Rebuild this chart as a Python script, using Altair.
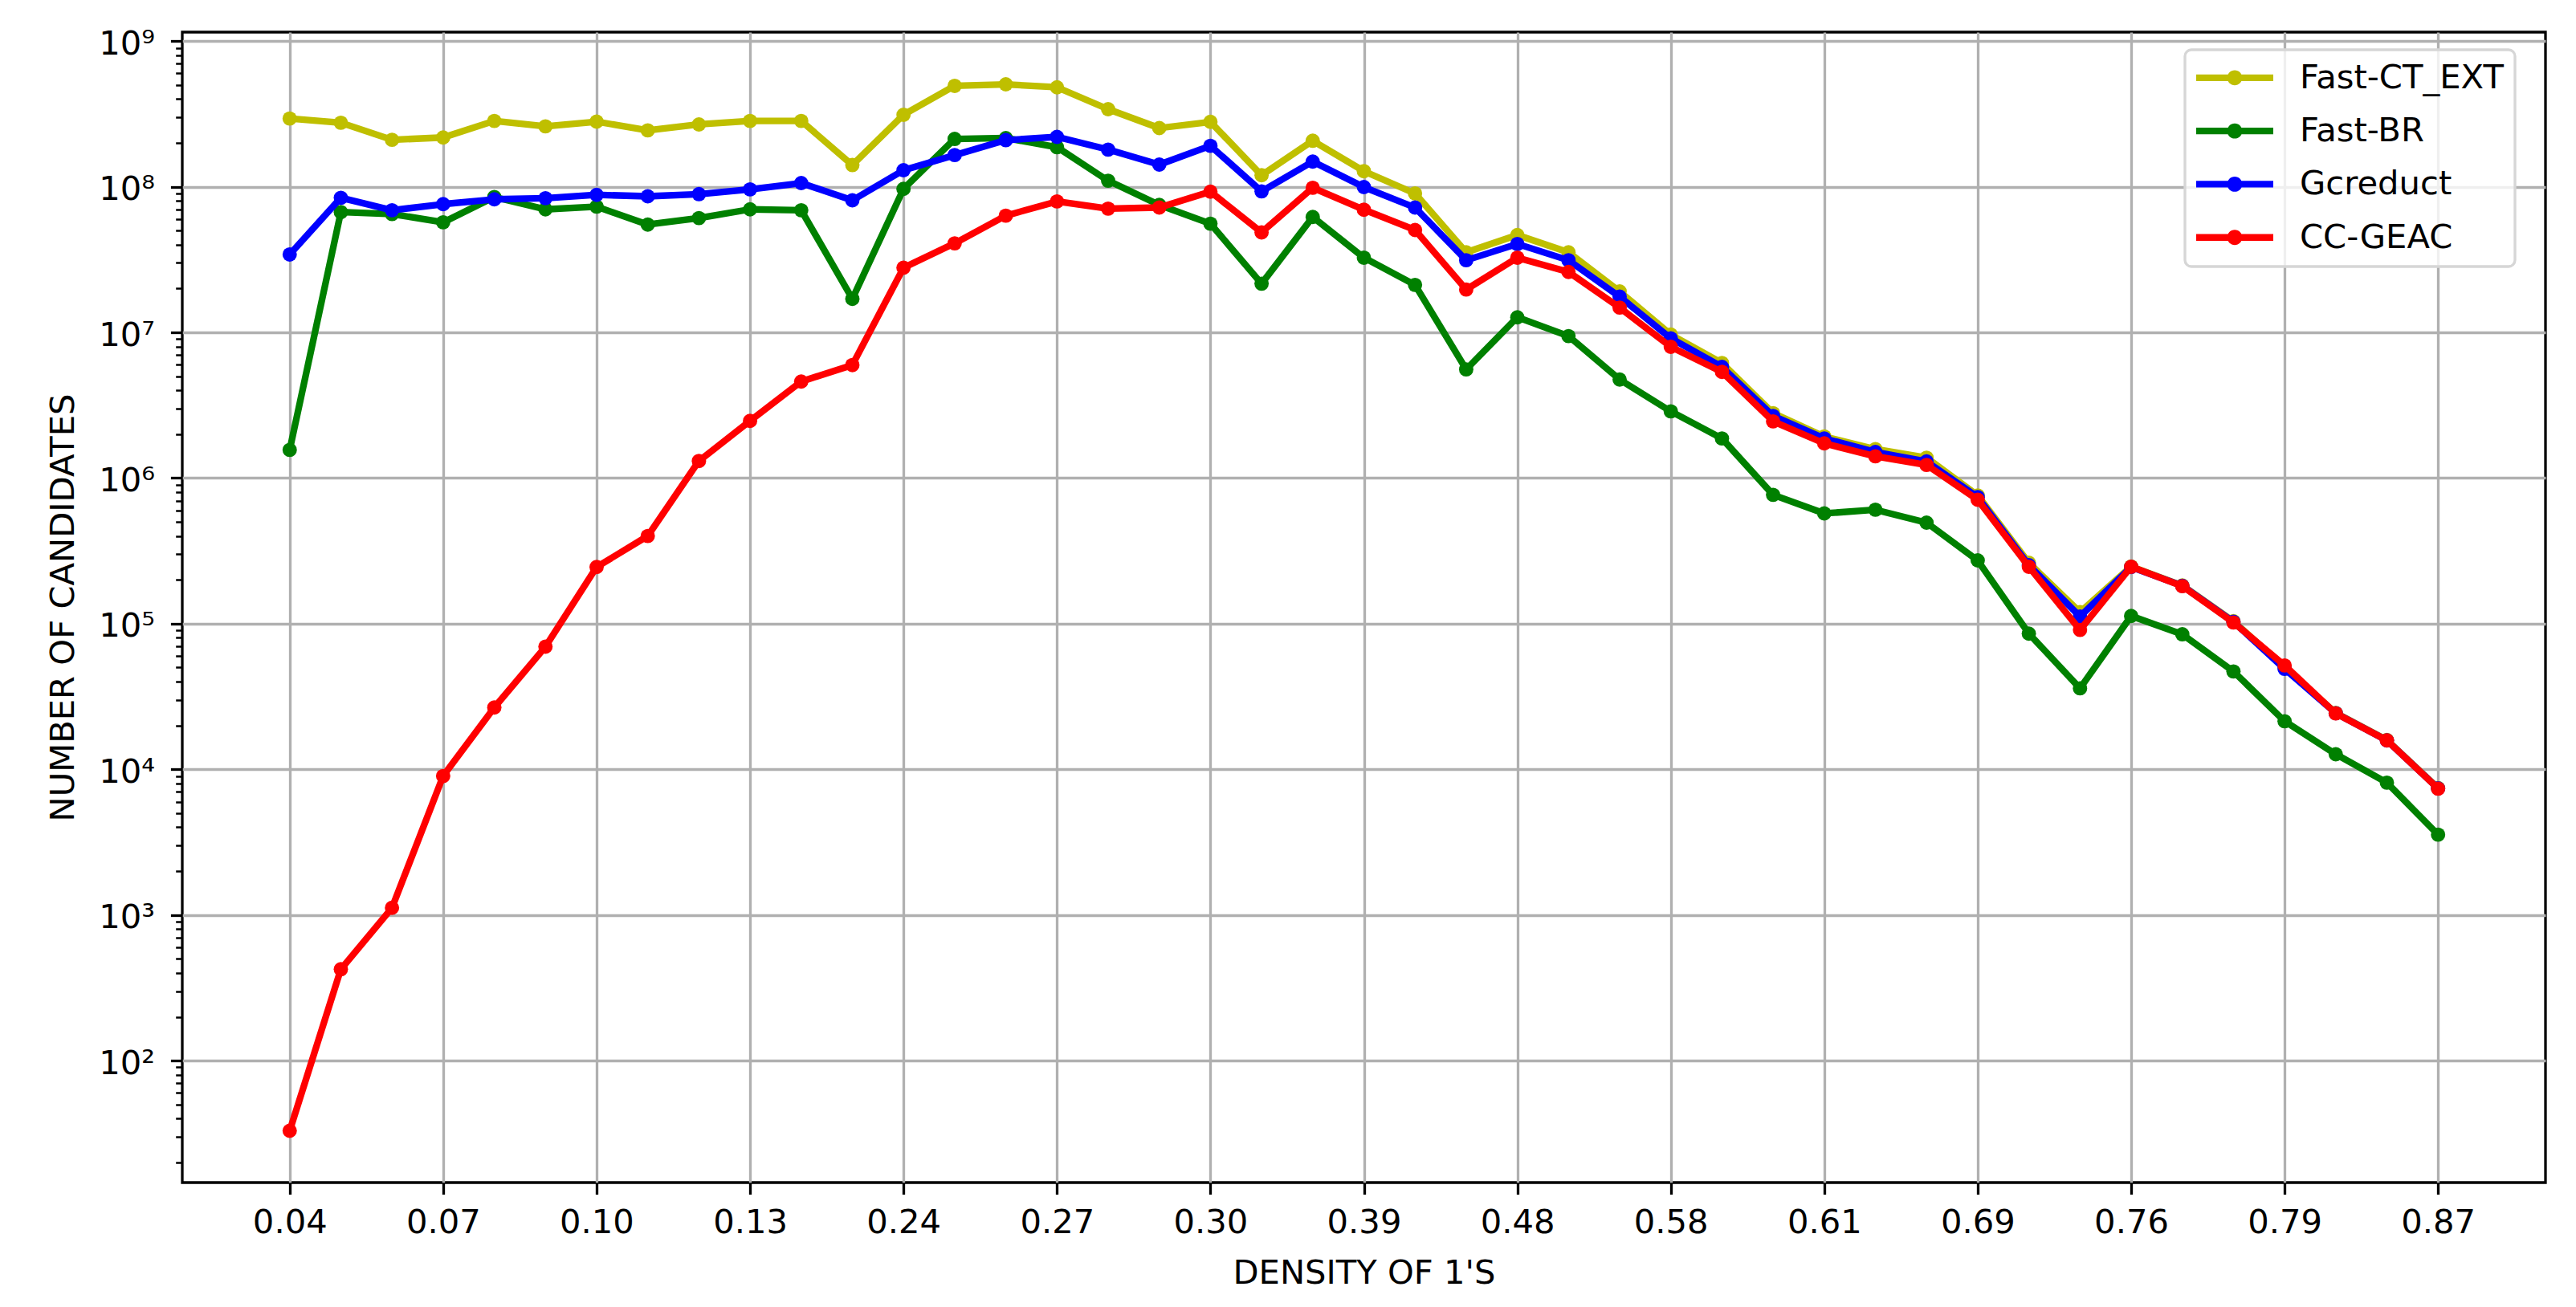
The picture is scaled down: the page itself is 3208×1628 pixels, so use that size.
import json
import altair as alt
import pandas as pd

# ---------------- data ----------------
x_labels = ["0.04", "0.07", "0.10", "0.13", "0.24", "0.27", "0.30", "0.39",
            "0.48", "0.58", "0.61", "0.69", "0.76", "0.79", "0.87"]
series_names = ["Fast-CT_EXT", "Fast-BR", "Gcreduct", "CC-GEAC"]
series_colors = ["#bfbf00", "#008000", "#0000ff", "#ff0000"]

fast_ct_ext = [2.94e8, 2.75e8, 2.1e8, 2.18e8, 2.83e8, 2.6e8, 2.8e8, 2.44e8, 2.68e8, 2.83e8,
               2.83e8, 1.41e8, 3.12e8, 4.93e8, 5.05e8, 4.82e8, 3.41e8, 2.53e8, 2.79e8, 1.2e8,
               2.07e8, 1.28e8, 9.0e7, 3.55e7, 4.66e7, 3.55e7, 1.91e7, 9.66e6, 6.17e6, 2.79e6,
               1.93e6, 1.58e6, 1.38e6, 7.6e5, 2.62e5, 1.2e5, 2.47e5, 1.83e5, 1.04e5, 5.0e4,
               2.44e4, 1.59e4, 7.45e3]
fast_br = [1.56e6, 6.7e7, 6.5e7, 5.7e7, 8.5e7, 7.0e7, 7.3e7, 5.5e7, 6.1e7, 7.0e7,
           6.9e7, 1.70e7, 9.67e7, 2.13e8, 2.16e8, 1.87e8, 1.10e8, 7.5e7, 5.58e7, 2.16e7,
           6.2e7, 3.26e7, 2.12e7, 5.57e6, 1.27e7, 9.44e6, 4.75e6, 2.87e6, 1.87e6, 7.67e5,
           5.72e5, 6.06e5, 4.94e5, 2.72e5, 8.55e4, 3.6e4, 1.13e5, 8.46e4, 4.7e4, 2.14e4,
           1.27e4, 8.1e3, 3.56e3]
gcreduct = [3.43e7, 8.4e7, 6.9e7, 7.6e7, 8.2e7, 8.35e7, 8.8e7, 8.6e7, 8.9e7, 9.6e7,
            1.06e8, 8.07e7, 1.30e8, 1.65e8, 2.09e8, 2.2e8, 1.80e8, 1.42e8, 1.91e8, 9.3e7,
            1.49e8, 9.95e7, 7.2e7, 3.13e7, 4.05e7, 3.13e7, 1.76e7, 9.1e6, 5.8e6, 2.67e6,
            1.87e6, 1.51e6, 1.3e6, 7.4e5, 2.52e5, 1.12e5, 2.45e5, 1.82e5, 1.03e5, 4.9e4,
            2.43e4, 1.58e4, 7.4e3]
cc_geac = [33, 424, 1120, 9000, 26600, 69500, 2.45e5, 4.0e5, 1.31e6, 2.47e6,
           4.6e6, 5.97e6, 2.78e7, 4.09e7, 6.33e7, 7.93e7, 7.08e7, 7.2e7, 9.25e7, 4.86e7,
           9.84e7, 6.96e7, 5.05e7, 1.97e7, 3.26e7, 2.6e7, 1.48e7, 7.96e6, 5.36e6, 2.45e6,
           1.73e6, 1.41e6, 1.23e6, 7.1e5, 2.46e5, 9.06e4, 2.46e5, 1.81e5, 1.02e5, 5.17e4,
           2.42e4, 1.58e4, 7.37e3]

rows = []
for name, vals in zip(series_names, [fast_ct_ext, fast_br, gcreduct, cc_geac]):
    for i, v in enumerate(vals):
        rows.append({"idx": i, "series": name, "value": v})
df = pd.DataFrame(rows)

# ---------------- axes ----------------
FONT = "DejaVu Sans"
FS = 41.7

major_test = "abs(log(datum.value)/LN10 - round(log(datum.value)/LN10)) < 0.001"
sup = "['\u2070','\u00b9','\u00b2','\u00b3','\u2074','\u2075','\u2076','\u2077','\u2078','\u2079']"
y_ticks = [m * 10 ** e for e in range(1, 9) for m in range(1, 10)] + [1e9]
y_ticks = [t for t in y_ticks if 14.55 <= t <= 1.153e9]

y_axis = alt.Axis(
    values=y_ticks,
    labelExpr=f"({major_test}) ? '10' + {sup}[round(log(datum.value)/LN10)] : ''",
    tickSize={"condition": {"test": major_test, "value": 14.6}, "value": 8.3},
    tickWidth={"condition": {"test": major_test, "value": 3.3}, "value": 2.5},
    gridOpacity={"condition": {"test": major_test, "value": 1}, "value": 0},
    grid=True, gridColor="#b0b0b0", gridWidth=3.3,
    tickColor="black", domain=False,
    labelFont=FONT, labelFontSize=FS, labelColor="black", labelPadding=20,
    labelOverlap=False, labelOffset=3,
    title="NUMBER OF CANDIDATES", titleFont=FONT, titleFontSize=FS,
    titleFontWeight="normal", titleColor="black",
    titleX=-136, titleY=716.5, titleAngle=270, titleAlign="center",
    titleBaseline="alphabetic",
)

x_axis = alt.Axis(
    values=list(range(0, 43, 3)),
    labelExpr=f"{json.dumps(x_labels)}[round(datum.value/3)]",
    grid=True, gridColor="#b0b0b0", gridWidth=3.3,
    tickSize=14.6, tickWidth=3.3, tickColor="black", domain=False,
    labelFont=FONT, labelFontSize=FS, labelColor="black", labelPadding=15,
    labelOverlap=False, labelFlush=False,
    title="DENSITY OF 1'S", titleFont=FONT, titleFontSize=FS,
    titleFontWeight="normal", titleColor="black",
    titleX=1471.5, titleY=125, titleAlign="center", titleBaseline="alphabetic",
)

x_enc = alt.X("idx:Q", scale=alt.Scale(domain=[-2.1, 44.1], nice=False, zero=False), axis=x_axis)
y_enc = alt.Y("value:Q", scale=alt.Scale(type="log", domain=[14.55, 1.153e9], nice=False), axis=y_axis)
color_scale = alt.Scale(domain=series_names, range=series_colors)

legend_path = ("M-1.0425,-0.2085H3.7575V0.2085H-1.0425Z "
               "M1.3575,-0.47A0.47,0.47,0,1,1,1.3575,0.47A0.47,0.47,0,1,1,1.3575,-0.47Z")
legend = alt.Legend(
    title=None, orient="none", legendX=2494, legendY=22,
    symbolType=legend_path, symbolSize=1600, symbolStrokeWidth=0, symbolOpacity=1,
    labelFont=FONT, labelFontSize=FS, labelColor="black", labelOffset=87.3, labelLimit=1000,
    padding=14, rowPadding=23.3,
    strokeColor="#d6d6d6", fillColor="rgba(255,255,255,0.8)", cornerRadius=8,
)
color_enc = alt.Color("series:N", scale=color_scale, legend=legend)

layers = []
for name in series_names:
    base = alt.Chart(df).transform_filter(alt.datum.series == name)
    pts = base.mark_circle(size=320, opacity=1).encode(x=x_enc, y=y_enc, color=color_enc)
    line = base.mark_line(strokeWidth=8.3, strokeJoin="round", strokeCap="round").encode(
        x=x_enc, y=y_enc, color=color_enc,
    )
    layers += [pts, line] if False else [line, pts]

# put a filled point layer first so the merged legend takes filled symbols
chart = alt.layer(*layers).properties(
    width=2943, height=1433,
    autosize=alt.AutoSizeParams(type="none"),
    padding={"left": 219, "top": 32, "right": 30, "bottom": 147},
).configure_view(stroke="black", strokeWidth=3.3).configure_legend(strokeWidth=3.3)

chart.save("out.html", embed_options={"renderer": "svg", "actions": False})
